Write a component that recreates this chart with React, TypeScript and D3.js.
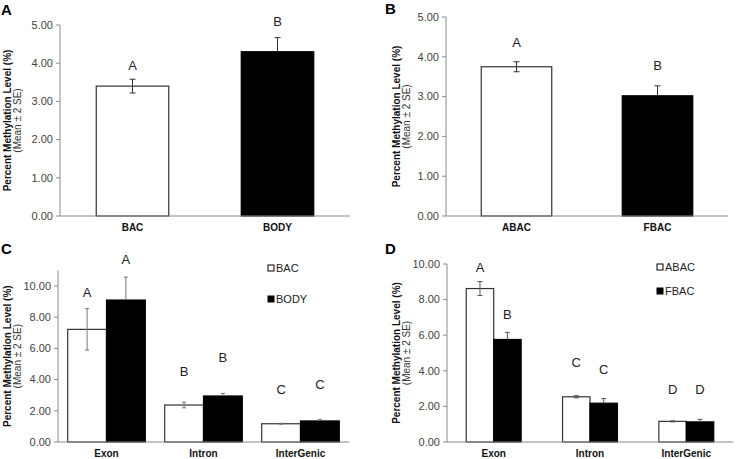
import React from 'react';
import * as d3 from 'd3';

// Panel A: tissue
const aCats = ['BAC', 'BODY'];
const aValues = [3.4, 4.3];
const aErrs = [0.18, 0.37];
const aLetters = ['A', 'B'];
const aLetterAt = [3.93, 5.1];

// Panel B: region of BAC
const bCats = ['ABAC', 'FBAC'];
const bValues = [3.75, 3.02];
const bErrs = [0.125, 0.25];
const bLetters = ['A', 'B'];
const bLetterAt = [4.35, 3.79];

// Panel C: genomic feature by tissue
const cCats = ['Exon', 'Intron', 'InterGenic'];
const cSeries = ['BAC', 'BODY'];
const cBac = [7.22, 2.37, 1.17];
const cBacErr = [1.33, 0.18, 0.03];
const cBody = [9.1, 2.95, 1.35];
const cBodyErr = [1.47, 0.16, 0.1];
const cBacLetters = ['A', 'B', 'C'];
const cBodyLetters = ['A', 'B', 'C'];
const cBacLetterAt = [9.6, 4.55, 3.4];
const cBodyLetterAt = [11.67, 5.45, 3.72];

// Panel D: genomic feature by BAC region
const dCats = ['Exon', 'Intron', 'InterGenic'];
const dSeries = ['ABAC', 'FBAC'];
const dAbac = [8.62, 2.54, 1.16];
const dAbacErr = [0.39, 0.06, 0.03];
const dFbac = [5.76, 2.18, 1.13];
const dFbacErr = [0.4, 0.26, 0.14];
const dAbacLetters = ['A', 'C', 'D'];
const dFbacLetters = ['B', 'C', 'D'];
const dAbacLetterAt = [9.78, 4.49, 2.98];
const dFbacLetterAt = [7.19, 4.1, 2.98];

const abTicks = [0, 1, 2, 3, 4, 5];
const cdTicks = [0, 2, 4, 6, 8, 10];

const FONT = 'Liberation Sans, Arial, sans-serif';
const fmt = d3.format('.2f');

type Series = {
  name: string;
  values: number[];
  errs: number[];
  letters: string[];
  letterAt: number[];
  dark: boolean;
};

type PanelProps = {
  tag: string;
  tagX: number;
  tagY: number;
  titleX: number;
  x0: number;
  x1: number;
  y0: number;
  yTop: number;
  yMax: number;
  ticks: number[];
  cats: string[];
  series: Series[];
  simple?: boolean;
  padInner: number;
  padOuter: number;
  capW: number;
  errColor: string;
  legend?: { x: number; y: number; dy: number };
};

const Panel = (p: PanelProps) => {
  const y = d3.scaleLinear().domain([0, p.yMax]).range([p.y0, p.yTop]);
  const x = d3.scaleBand<string>().domain(p.cats).range([p.x0, p.x1])
    .paddingInner(p.padInner).paddingOuter(p.padOuter);
  const sub = d3.scaleBand<string>().domain(p.series.map(s => s.name))
    .range([0, x.bandwidth()]);

  const bars: any[] = [];
  p.series.forEach((s, si) => {
    s.values.forEach((v, i) => {
      const cat = p.cats[i];
      const left = p.simple ? x(cat)! : x(cat)! + sub(s.name)!;
      const w = p.simple ? x.bandwidth() : sub.bandwidth();
      const dark = p.simple ? i === 1 : s.dark;
      bars.push({ key: `${si}-${i}`, left, w, v, e: s.errs[i], dark,
        letter: s.letters[i], letterAt: s.letterAt[i] });
    });
  });

  const midY = (p.y0 + p.yTop) / 2;

  return (
    <g fontFamily={FONT}>
      <text x={p.tagX} y={p.tagY} fontSize={15} fontWeight="bold" fill="#000">{p.tag}</text>
      {/* y title */}
      <text transform={`translate(${p.titleX},${midY}) rotate(-90)`} textAnchor="middle" dy="0.35em"
        fontSize={10} fontWeight="bold" fill="#111">Percent Methylation Level (%)</text>
      <text transform={`translate(${p.titleX + 10},${midY}) rotate(-90)`} textAnchor="middle" dy="0.35em"
        fontSize={10} fill="#333">(Mean ± 2 SE)</text>
      {/* y axis */}
      <line x1={p.x0} x2={p.x0} y1={p.y0} y2={p.yTop} stroke="#8a8a8a" />
      {p.ticks.map(t => (
        <g key={t} transform={`translate(0,${y(t)})`}>
          <line x1={p.x0 - 4} x2={p.x0} stroke="#8a8a8a" />
          <text x={p.x0 - 7} dy="0.35em" textAnchor="end" fontSize={11} fill="#444">{fmt(t)}</text>
        </g>
      ))}
      {/* bars */}
      {bars.map(b => (
        <rect key={b.key} x={b.left} y={y(b.v)} width={b.w} height={p.y0 - y(b.v)}
          fill={b.dark ? '#000' : '#fff'} stroke={b.dark ? '#000' : '#333'} strokeWidth={1.2} />
      ))}
      {/* error bars */}
      {bars.map(b => {
        const cx = b.left + b.w / 2;
        const lo = b.dark ? b.v : b.v - b.e;
        return (
          <g key={'e' + b.key} stroke={p.errColor} strokeWidth={1}>
            <line x1={cx} x2={cx} y1={y(lo)} y2={y(b.v + b.e)} />
            <line x1={cx - p.capW / 2} x2={cx + p.capW / 2} y1={y(b.v + b.e)} y2={y(b.v + b.e)} />
            {!b.dark && (
              <line x1={cx - p.capW / 2} x2={cx + p.capW / 2} y1={y(lo)} y2={y(lo)} />
            )}
          </g>
        );
      })}
      {/* significance letters */}
      {bars.map(b => (
        <text key={'l' + b.key} x={b.left + b.w / 2} y={y(b.letterAt)} dy="0.35em"
          textAnchor="middle" fontSize={13} fill="#222">{b.letter}</text>
      ))}
      {/* x axis */}
      <line x1={p.x0} x2={p.x1} y1={p.y0} y2={p.y0} stroke="#8a8a8a" />
      {p.cats.map(c => (
        <text key={c} x={x(c)! + x.bandwidth() / 2} y={p.y0 + 15} textAnchor="middle"
          fontSize={10} fontWeight="bold" fill="#111">{c}</text>
      ))}
      {p.legend && p.series.map((s, i) => (
        <g key={s.name} transform={`translate(${p.legend!.x},${p.legend!.y + i * p.legend!.dy})`}>
          <rect x={0} y={-3} width={6} height={6} fill={s.dark ? '#000' : '#fff'} stroke="#000" strokeWidth={1} />
          <text x={8} dy="0.35em" fontSize={11} fill="#222">{s.name}</text>
        </g>
      ))}
    </g>
  );
};

const simpleSeries = (name: string, values: number[], errs: number[], letters: string[], at: number[]): Series[] =>
  [{ name, values, errs, letters, letterAt: at, dark: false }];

export default function App() {
  return (
    <svg width={738} height={459} style={{ position: 'absolute', left: 0, top: 0, background: '#fff' }}>
      <rect width={738} height={459} fill="#fff" />
      <Panel tag="A" tagX={1} tagY={15} titleX={7} x0={60} x1={350} y0={216} yTop={25} yMax={5} ticks={abTicks}
        cats={aCats} series={simpleSeries('A', aValues, aErrs, aLetters, aLetterAt)} simple
        padInner={0.5} padOuter={0.25} capW={6} errColor="#333" />
      <Panel tag="B" tagX={385} tagY={14} titleX={396} x0={446} x1={728} y0={216} yTop={17} yMax={5} ticks={abTicks}
        cats={bCats} series={simpleSeries('B', bValues, bErrs, bLetters, bLetterAt)} simple
        padInner={0.5} padOuter={0.25} capW={6} errColor="#333" />
      <Panel tag="C" tagX={1} tagY={254} titleX={7} x0={58} x1={349} y0={442} yTop={270.4} yMax={11} ticks={cdTicks}
        cats={cCats}
        series={[
          { name: cSeries[0], values: cBac, errs: cBacErr, letters: cBacLetters, letterAt: cBacLetterAt, dark: false },
          { name: cSeries[1], values: cBody, errs: cBodyErr, letters: cBodyLetters, letterAt: cBodyLetterAt, dark: true },
        ]}
        padInner={0.2} padOuter={0.1} capW={4} errColor="#777"
        legend={{ x: 268, y: 268, dy: 31 }} />
      <Panel tag="D" tagX={385} tagY={254} titleX={396} x0={447} x1={733} y0={442} yTop={264} yMax={10} ticks={cdTicks}
        cats={dCats}
        series={[
          { name: dSeries[0], values: dAbac, errs: dAbacErr, letters: dAbacLetters, letterAt: dAbacLetterAt, dark: false },
          { name: dSeries[1], values: dFbac, errs: dFbacErr, letters: dFbacLetters, letterAt: dFbacLetterAt, dark: true },
        ]}
        padInner={0.43} padOuter={0.2} capW={5} errColor="#555"
        legend={{ x: 657, y: 267, dy: 24 }} />
    </svg>
  );
}
